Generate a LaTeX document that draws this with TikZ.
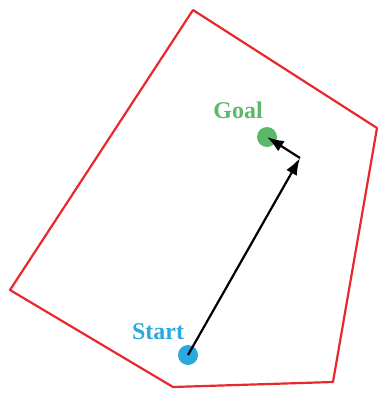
\documentclass[tikz,border=0pt]{standalone}
\usepackage{fontspec}
\setmainfont{Liberation Serif}
\usetikzlibrary{arrows.meta}
\definecolor{redline}{HTML}{E8282C}
\definecolor{goalgreen}{HTML}{5CB869}
\definecolor{startblue}{HTML}{2AA9E1}
\tikzset{
  region/.style={draw=redline, line width=2.2pt, line join=round},
  dot/.style={circle, inner sep=0pt, minimum size=20pt},
  lbl/.style={font=\bfseries\fontsize{24}{28}\selectfont, inner sep=0pt},
  move/.style={draw=black, line width=2.2pt, -{Latex[length=17pt,width=12pt]}}
}
\begin{document}
\begin{tikzpicture}[x=1pt,y=-1pt]
\useasboundingbox (0,0) rectangle (379,394);
\draw[region] (193,10) -- (377,128) -- (333,382) -- (173,387) -- (10,290) -- cycle;
\node[dot, fill=goalgreen] (goal) at (267,137) {};
\node[dot, fill=startblue] (start) at (188,355) {};
\node[lbl, text=goalgreen] (goallbl) at (238,110) {Goal};
\node[lbl, text=startblue] (startlbl) at (158,332) {Start};
\coordinate (turn) at (300,158);
\draw[move] (start.center) -- (turn);
\draw[move] (turn) -- (goal.center);
\end{tikzpicture}
\end{document}
